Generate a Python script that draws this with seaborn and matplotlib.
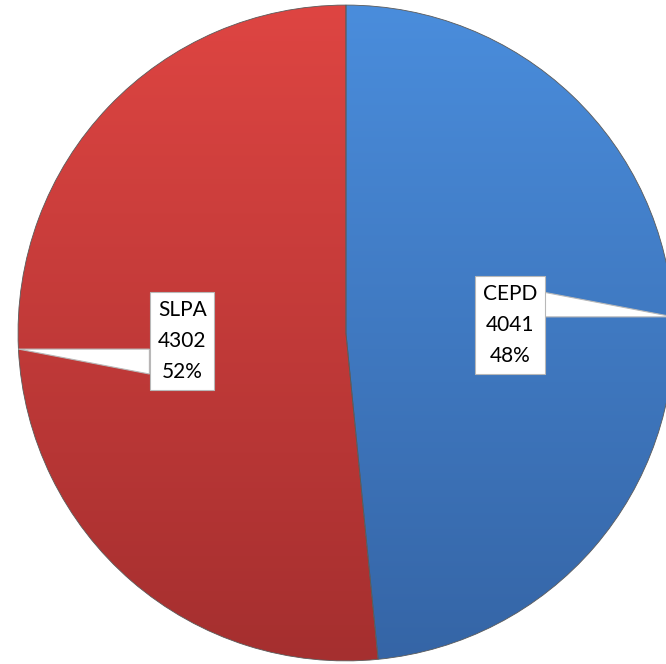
import numpy as np
import matplotlib
matplotlib.use("Agg")
import matplotlib.pyplot as plt
from matplotlib.colors import LinearSegmentedColormap
from matplotlib.patches import Polygon
import seaborn as sns

# data
labels = ["CEPD", "SLPA"]
counts = [4041, 4302]
top_colors = ["#4a8ddc", "#de4542"]
bottom_colors = ["#3565a6", "#a52f2f"]

sns.set_style("white")
plt.rcParams["font.family"] = ["Lato", "DejaVu Sans"]

fig = plt.figure(figsize=(6.66, 6.64), dpi=100)
ax = fig.add_axes([0, 0, 1, 1])

wedges, _ = ax.pie(counts, startangle=90, counterclock=False, radius=1,
                   colors=sns.color_palette(top_colors),
                   wedgeprops=dict(edgecolor="#5a5a5a", linewidth=0.6))

# vertical gradient fill clipped to each wedge (excel-like shading)
grad = np.linspace(0, 1, 256).reshape(-1, 1)
for w, c_top, c_bot in zip(wedges, top_colors, bottom_colors):
    cmap = LinearSegmentedColormap.from_list("g", [c_bot, c_top])
    im = ax.imshow(grad, cmap=cmap, origin="lower", extent=[-1, 1, -1, 1],
                   aspect="auto", zorder=w.get_zorder() + 0.1)
    im.set_clip_path(w)
    w.set_facecolor("none")
    w.set_zorder(w.get_zorder() + 0.2)

# callout labels
total = sum(counts)
for w, lab, n in zip(wedges, labels, counts):
    mid = np.deg2rad((w.theta1 + w.theta2) / 2)
    cx, cy = 0.5 * np.cos(mid), 0.5 * np.sin(mid)
    tx, ty = np.cos(mid), np.sin(mid)
    side = 1 if tx > 0 else -1
    edge_x = cx + side * 0.100
    pointer = Polygon([(edge_x, ty), (tx, ty), (edge_x, ty + side * 0.076)],
                      closed=True, facecolor="white", edgecolor="#b8b8b8",
                      linewidth=0.8, zorder=5)
    ax.add_patch(pointer)
    ax.text(cx, cy, f"{lab}\n{n}\n{n / total:.0%}", ha="center", va="center",
            fontsize=15, linespacing=1.7, color="black", zorder=6,
            bbox=dict(boxstyle="square,pad=0.38", facecolor="white",
                      edgecolor="#b8b8b8", linewidth=0.8))

ax.set_xlim(-1.055, 0.976)
ax.set_ylim(-1.009, 1.015)
ax.set_aspect("equal")
ax.axis("off")

fig.savefig("out.png", dpi=100, facecolor="white")
